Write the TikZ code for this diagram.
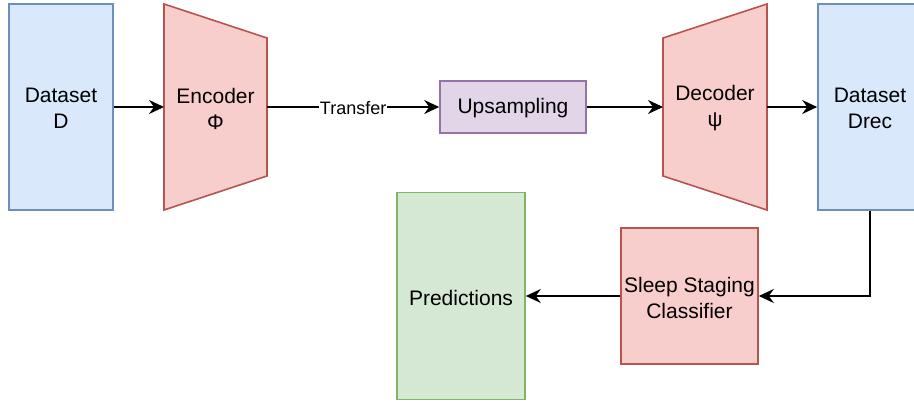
\documentclass[tikz,border=0pt]{standalone}
\usepackage{fontspec}
\setmainfont{Liberation Sans}
\usetikzlibrary{arrows.meta}
\definecolor{bluefill}{HTML}{DAE8FC}\definecolor{bluedraw}{HTML}{6C8EBF}
\definecolor{redfill}{HTML}{F8CECC}\definecolor{reddraw}{HTML}{B85450}
\definecolor{purplefill}{HTML}{E1D5E7}\definecolor{purpledraw}{HTML}{9673A6}
\definecolor{greenfill}{HTML}{D5E8D4}\definecolor{greendraw}{HTML}{82B366}
\tikzset{
  lbl/.style={font=\fontsize{21}{26}\selectfont, align=center, text=black},
  txt/.style={lbl, yshift=-1.5pt},
  bluebox/.style={draw=bluedraw, fill=bluefill, line width=1.6pt, rectangle, inner sep=0pt},
  redbox/.style={draw=reddraw, fill=redfill, line width=1.6pt},
  purplebox/.style={draw=purpledraw, fill=purplefill, line width=1.6pt, rectangle, inner sep=0pt},
  greenbox/.style={draw=greendraw, fill=greenfill, line width=1.6pt, rectangle, inner sep=0pt},
  link/.style={line width=1.6pt, -{Stealth[length=15pt, width=14pt, inset=5pt]}},
}
\begin{document}
\begin{tikzpicture}[x=1pt, y=-1pt]
\useasboundingbox (0,0) rectangle (914,403);
\clip (0,0) rectangle (914,403);

% input dataset
\node[bluebox, minimum width=104pt, minimum height=206pt] (dsD) at (61,107) {};
\node[txt] (dsDtxt) at (dsD.center) {Dataset\\D};

% encoder trapezoid
\coordinate (encL) at (164,107);
\coordinate (encR) at (267,107);
\draw[redbox] (164,4) -- (267,38) -- (267,176) -- (164,210) -- cycle;
\node[txt] (enc) at (215.5,107) {Encoder\\Φ};

% upsampling block
\node[purplebox, minimum width=146pt, minimum height=52pt] (up) at (513,107) {};
\node[txt] (uptxt) at (up.center) {Upsampling};

% decoder trapezoid
\coordinate (decL) at (663,107);
\coordinate (decR) at (767,107);
\draw[redbox] (663,38) -- (767,4) -- (767,210) -- (663,176) -- cycle;
\node[txt] (dec) at (715,107) {Decoder\\ψ};

% reconstructed dataset
\node[bluebox, minimum width=104pt, minimum height=206pt] (dsR) at (870,107) {};
\node[txt] (dsRtxt) at (dsR.center) {Dataset\\Drec};

% classifier and predictions
\node[redbox, rectangle, inner sep=0pt, minimum width=137pt, minimum height=136pt] (cls) at (689.5,296) {};
\node[txt] (clstxt) at (cls.center) {Sleep Staging\\Classifier};
\node[greenbox, minimum width=128pt, minimum height=207pt] (pred) at (461,296) {};
\node[txt] (predtxt) at (pred.center) {Predictions};

% connectors
\draw[link] (dsD.east) -- (encL);
\draw[link] (encR) -- node[fill=white, inner sep=1pt, yshift=-1pt, font=\fontsize{18}{22}\selectfont] {Transfer} (up.west);
\draw[link] (up.east) -- (decL);
\draw[link] (decR) -- (dsR.west);
\draw[link] (dsR.south) |- (cls.east);
\draw[link] (cls.west) -- (pred.east);
\end{tikzpicture}
\end{document}
